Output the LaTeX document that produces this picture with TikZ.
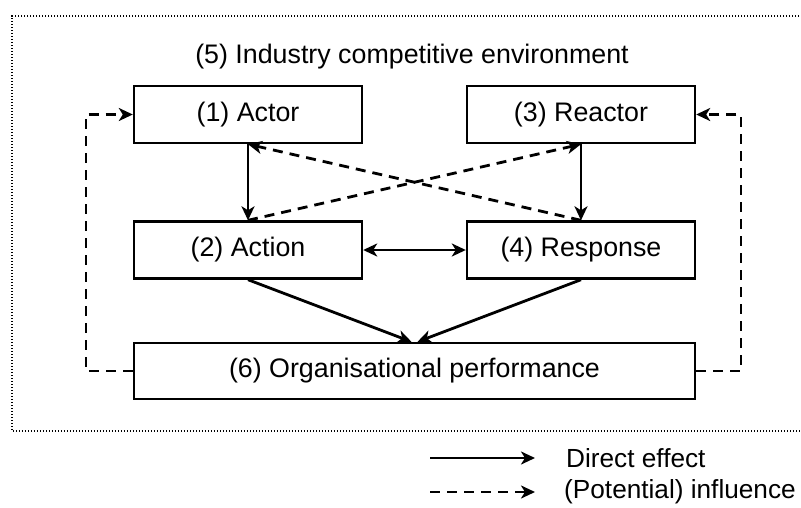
\documentclass[tikz,border=0pt]{standalone}
\usepackage{fontspec}
\setmainfont{Liberation Sans}
\usetikzlibrary{arrows.meta}
\begin{document}
\begin{tikzpicture}[x=1pt,y=-1pt,
  >={Stealth[length=14pt,width=13pt,inset=4pt]},
  txt/.style={font=\fontsize{26.8}{30}\selectfont, inner sep=0pt},
  lgd/.style={font=\fontsize{26.2}{30}\selectfont, inner sep=0pt, anchor=west},
  box/.style={txt, draw, line width=2.4pt, minimum width=228pt, minimum height=57pt},
  arr/.style={line width=2.8pt, ->},
  dsh/.style={arr, dash pattern=on 10pt off 7pt},
  border/.style={line width=1.4pt, dash pattern=on 1.4pt off 1.6pt}
]
\useasboundingbox (0,0) rectangle (801,507);
\draw[border] (805,16) -- (12,16) -- (12,431) -- (805,431);
\node[txt] (title) at (412,57) {(5) Industry competitive environment};
\node[box] (actor) at (248,114.5) {(1) Actor};
\node[box] (reactor) at (581,114.5) {(3) Reactor};
\node[box] (action) at (248,250) {(2) Action};
\node[box] (response) at (581,250) {(4) Response};
\node[box, minimum width=561pt, minimum height=56pt] (org) at (414.5,371) {(6) Organisational performance};
\draw[arr] (actor.south) -- (action.north);
\draw[arr] (reactor.south) -- (response.north);
\draw[dsh] (action.north) -- (reactor.south);
\draw[dsh] (response.north) -- (actor.south);
\draw[arr, <->] (action.east) -- (response.west);
\draw[arr] (action.south) -- ([xshift=-3pt]org.north);
\draw[arr] (response.south) -- ([xshift=3pt]org.north);
\coordinate (lc) at (86,371);
\coordinate (rc) at (741,371);
\draw[dsh] (org.west) -- (lc) |- (actor.west);
\draw[dsh] (org.east) -- (rc) |- (reactor.east);
\coordinate (l1a) at (430,458);
\coordinate (l1b) at (535,458);
\coordinate (l2a) at (430,492);
\coordinate (l2b) at (535,492);
\draw[arr] (l1a) -- (l1b);
\draw[dsh] (l2a) -- (l2b);
\node[lgd] (lg1) at (566,458) {Direct effect};
\node[lgd] (lg2) at (564,492) {(Potential) influence};
\end{tikzpicture}
\end{document}
